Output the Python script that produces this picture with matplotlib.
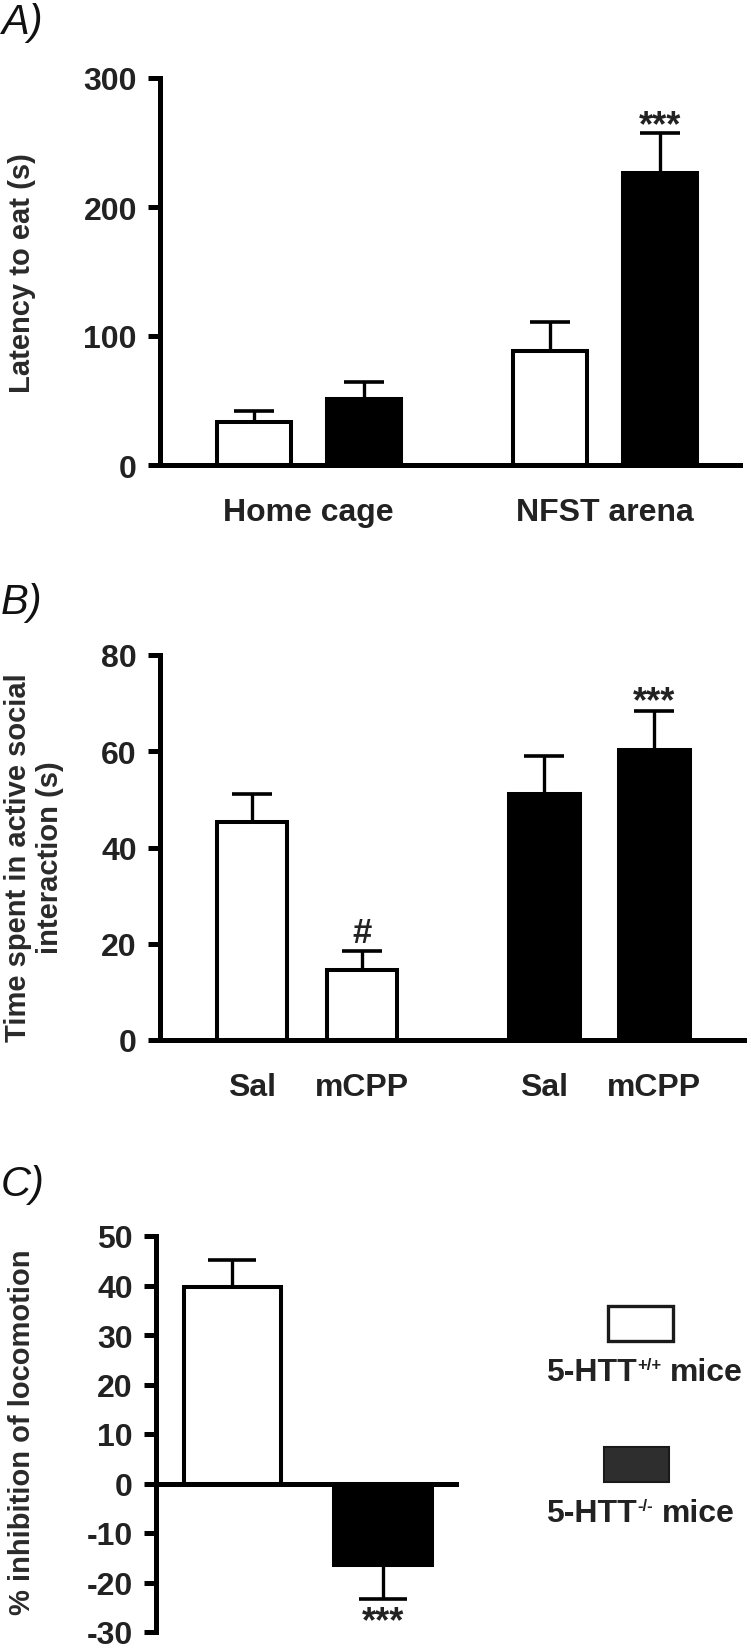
import matplotlib
matplotlib.use("Agg")
import matplotlib.pyplot as plt
from matplotlib.transforms import IdentityTransform
from matplotlib.patches import Rectangle
import numpy as np

# ---------------- data ----------------
a_categories = ["Home cage", "NFST arena"]
a_wt_mean = [33, 88]
a_wt_sem = [9, 23]
a_ko_mean = [51, 226]
a_ko_sem = [13, 31]
a_yticks = [0, 100, 200, 300]

b_treatments = ["Sal", "mCPP"]
b_wt_mean = [45.2, 14.5]
b_wt_sem = [5.9, 3.9]
b_ko_mean = [51.1, 60.2]
b_ko_sem = [7.9, 8.1]
b_yticks = [0, 20, 40, 60, 80]

c_genotypes = ["5-HTT+/+", "5-HTT-/-"]
c_mean = [39.6, -16.4]
c_sem = [5.6, 6.9]
c_yticks = [-30, -20, -10, 0, 10, 20, 30, 40, 50]

legend_main = ["5-HTT", "5-HTT"]
legend_sup = ["+/+", "-/-"]
legend_tail = ["mice", "mice"]

# ---------------- style ----------------
W, H, DPI = 751, 1649, 100
plt.rcParams['font.family'] = ['Liberation Sans', 'DejaVu Sans']
plt.rcParams['font.weight'] = 'bold'
plt.rcParams['axes.unicode_minus'] = False

TXT = '#222222'
LBL = '#2a2a2a'
LW_SPINE = 3.6
BAR_LW = 2.9
ELW = 2.4

fig = plt.figure(figsize=(W / DPI, H / DPI), dpi=DPI)
fig.patch.set_facecolor('white')


def px_axes(left, top, right, bottom):
    return fig.add_axes([left / W, 1 - bottom / H, (right - left) / W, (bottom - top) / H])


def style(ax, yticks):
    for s in ['top', 'right']:
        ax.spines[s].set_visible(False)
    for s in ['left', 'bottom']:
        ax.spines[s].set_linewidth(LW_SPINE)
        ax.spines[s].set_color('black')
    ax.set_ylim(yticks[0], yticks[-1])
    ax.set_yticks(yticks)
    ax.set_yticklabels([str(t) for t in yticks])
    ax.spines['left'].set_bounds(yticks[0], yticks[-1])
    ax.tick_params(axis='y', direction='out', length=8.6, width=3.6, pad=8,
                   labelsize=23, labelcolor=TXT, color='black')
    ax.tick_params(axis='x', length=0, pad=23, labelsize=23, labelcolor=TXT)
    ax.patch.set_visible(False)


def bars(ax, x, means, sems, face, width, capsize):
    means = np.asarray(means, float)
    sems = np.asarray(sems, float)
    lower = np.where(means < 0, sems, 0.0)
    upper = np.where(means >= 0, sems, 0.0)
    ax.errorbar(x, means, yerr=[lower, upper], fmt='none', ecolor='black',
                elinewidth=ELW, capsize=capsize, capthick=2.6, zorder=2)
    ax.bar(x, means, width=width, color=face, edgecolor='black',
           linewidth=BAR_LW, zorder=3)


def star(ax, x, y, s, offset_pt, size=26):
    ax.annotate(s, xy=(x, y), xytext=(0, offset_pt), textcoords='offset points',
                ha='center', va='baseline', fontsize=size, color=TXT,
                annotation_clip=False)


# ---------------- panel A ----------------
axA = px_axes(160, 79, 740, 466)
style(axA, a_yticks)
gA = np.array([0.0, 2.69])
bwA = 0.673
bars(axA, gA - 0.5, a_wt_mean, a_wt_sem, 'white', bwA, 14.4)
bars(axA, gA + 0.5, a_ko_mean, a_ko_sem, 'black', bwA, 14.4)
axA.set_xlim(-1.352, 3.92)
axA.set_xticks(gA)
axA.set_xticklabels(a_categories)
star(axA, gA[1] + 0.5, a_ko_mean[1] + a_ko_sem[1], '***', -1)

# ---------------- panel B ----------------
axB = px_axes(160, 656, 744, 1041)
style(axB, b_yticks)
gB = np.array([0.0, 2.655])
bwB = 0.64
bars(axB, gB[0] + np.array([-0.5, 0.5]), b_wt_mean, b_wt_sem, 'white', bwB, 14.4)
bars(axB, gB[1] + np.array([-0.5, 0.5]), b_ko_mean, b_ko_sem, 'black', bwB, 14.4)
axB.set_xlim(-1.339, 3.97)
posB = np.concatenate([gB[0] + np.array([-0.5, 0.5]), gB[1] + np.array([-0.5, 0.5])])
axB.set_xticks(posB)
axB.set_xticklabels(b_treatments + b_treatments)
star(axB, posB[1], b_wt_mean[1] + b_wt_sem[1], '#', 6.5, size=25)
star(axB, posB[3], b_ko_mean[1] + b_ko_sem[1], '***', 0)

# ---------------- panel C ----------------
axC = px_axes(156, 1237, 456, 1633)
style(axC, c_yticks)
axC.spines['bottom'].set_position(('data', 0))
xC = np.arange(len(c_mean))
bwC = 0.645
bars(axC, xC[:1], c_mean[:1], c_sem[:1], 'white', bwC, 17.3)
bars(axC, xC[1:], c_mean[1:], c_sem[1:], 'black', bwC, 17.3)
axC.set_xlim(-0.508, 1.485)
axC.set_xticks([])
star(axC, xC[1], c_mean[1] - c_sem[1], '***', -23)

# ---------------- y labels & panel letters ----------------
fig.text(22 / W, 1 - 273 / H, "Latency to eat (s)", rotation=90, ha='center',
         va='center', fontsize=21, color=LBL)
fig.text(34 / W, 1 - 858 / H, "Time spent in active social\ninteraction (s)",
         rotation=90, ha='center', va='center', multialignment='center',
         fontsize=21, color=LBL, linespacing=1.15)
fig.text(22 / W, 1 - 1432 / H, "% inhibition of locomotion", rotation=90,
         ha='center', va='center', fontsize=21, color=LBL)

for lab, top in [("A)", 3), ("B)", 583), ("C)", 1165)]:
    fig.text(1 / W, 1 - top / H, lab, ha='left', va='top', fontsize=30,
             fontstyle='italic', fontweight='normal', color='#111111')

# ---------------- legend ----------------
fig.patches.append(Rectangle((608 / W, 1 - 1342 / H), 65 / W, 35 / H,
                             transform=fig.transFigure, facecolor='white',
                             edgecolor='#1a1a1a', linewidth=2.4))
fig.patches.append(Rectangle((604 / W, 1 - 1483 / H), 65 / W, 35 / H,
                             transform=fig.transFigure, facecolor='#2e2e2e',
                             edgecolor='#1a1a1a', linewidth=1.5))

fig.canvas.draw()
renderer = fig.canvas.get_renderer()
ident = IdentityTransform()
for i, (xs, base) in enumerate([(546, 1381), (546, 1522)]):
    t1 = fig.text(xs, H - base, legend_main[i], transform=ident, ha='left',
                  va='baseline', fontsize=23, color=TXT)
    w1 = t1.get_window_extent(renderer).width
    t2 = fig.text(xs + w1 + 1, H - base + 11, legend_sup[i], transform=ident,
                  ha='left', va='baseline', fontsize=12, color=TXT)
    w2 = t2.get_window_extent(renderer).width
    fig.text(xs + w1 + 1 + w2 + 8, H - base, legend_tail[i], transform=ident,
             ha='left', va='baseline', fontsize=23, color=TXT)

fig.savefig("out.png", dpi=DPI, facecolor='white')
